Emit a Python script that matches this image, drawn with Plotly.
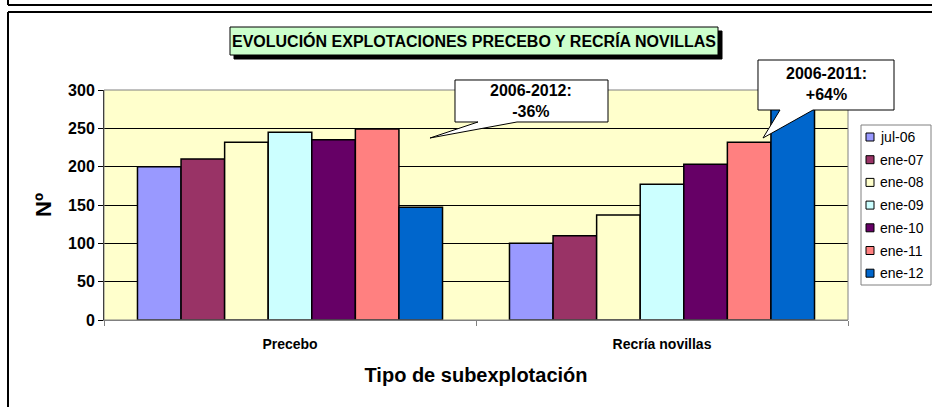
import plotly.graph_objects as go

# data
categories = ["Precebo", "Recría novillas"]
series_names = ["jul-06", "ene-07", "ene-08", "ene-09", "ene-10", "ene-11", "ene-12"]
precebo = [200, 210, 232, 245, 235, 249, 147]
recria = [100, 110, 137, 177, 203, 232, 310]
colors = ["#9999FF", "#993366", "#FFFFCC", "#CCFFFF", "#660066", "#FF8080", "#0066CC"]

FONT = "Liberation Sans, Arial, sans-serif"
W, H = 932, 407
PL, PR, PT, PB = 104, 848, 90, 320  # plot area in pixels


def px(x):
    return (x - PL) / (PR - PL)


def py(y):
    return (PB - y) / (PB - PT)


fig = go.Figure()

for i, name in enumerate(series_names):
    fig.add_trace(go.Bar(
        x=categories,
        y=[precebo[i], recria[i]],
        name=name,
        marker=dict(color=colors[i], line=dict(color="black", width=1.5)),
        showlegend=False,
    ))


def hline(x0, x1, y, color="black", width=2):
    return dict(type="line", xref="paper", yref="paper",
                x0=px(x0), x1=px(x1), y0=py(y), y1=py(y),
                line=dict(color=color, width=width))


def vline(x, y0, y1, color="black", width=2):
    return dict(type="line", xref="paper", yref="paper",
                x0=px(x), x1=px(x), y0=py(y0), y1=py(y1),
                line=dict(color=color, width=width))


shapes = []
# outer frames (chart border + bottom of the box above)
shapes.append(hline(8, 940, 5))
shapes.append(vline(8, -5, 5))
shapes.append(hline(8, 940, 12))
shapes.append(vline(8, 12, 420))
# plot area border
shapes.append(dict(type="rect", xref="paper", yref="paper",
                   x0=0, x1=1, y0=0, y1=1,
                   line=dict(color="#808080", width=1)))

# title box with shadow
shapes.append(dict(type="rect", xref="paper", yref="paper",
                   x0=px(234), x1=px(722), y0=py(31), y1=py(59),
                   fillcolor="black", line=dict(color="black", width=1)))
shapes.append(dict(type="rect", xref="paper", yref="paper",
                   x0=px(230), x1=px(718), y0=py(27), y1=py(55),
                   fillcolor="#CCFFCC", line=dict(color="black", width=1)))


def callout(x0, x1, y0, y1, b0, b1, tx, ty):
    pts = [(x0, y0), (x1, y0), (x1, y1), (b1, y1), (tx, ty), (b0, y1), (x0, y1)]
    path = "M " + " L ".join(f"{px(a):.5f},{py(b):.5f}" for a, b in pts) + " Z"
    return dict(type="path", xref="paper", yref="paper", path=path,
                fillcolor="white", line=dict(color="black", width=1))


shapes.append(callout(455, 608, 80, 122, 478, 517, 430, 138))
shapes.append(callout(758, 894, 60, 110, 780, 813, 763, 138))

# legend
shapes.append(dict(type="rect", xref="paper", yref="paper",
                   x0=px(861), x1=px(931), y0=py(125), y1=py(285),
                   fillcolor="white", line=dict(color="#808080", width=1)))
annotations = []
for i, name in enumerate(series_names):
    yc = 137 + i * 22.7
    shapes.append(dict(type="rect", xref="paper", yref="paper",
                       x0=px(866), x1=px(874), y0=py(yc - 4), y1=py(yc + 4),
                       fillcolor=colors[i], line=dict(color="black", width=1)))
    annotations.append(dict(x=px(878), y=py(yc), xref="paper", yref="paper",
                            text=name, showarrow=False, xanchor="left", yanchor="middle",
                            font=dict(family=FONT, size=14, color="black")))

annotations.append(dict(x=px(474), y=py(41), xref="paper", yref="paper",
                        text="EVOLUCIÓN EXPLOTACIONES PRECEBO Y RECRÍA NOVILLAS",
                        showarrow=False, xanchor="center", yanchor="middle",
                        font=dict(family=FONT, size=16, color="black", weight="bold")))
annotations.append(dict(x=px(531), y=py(101), xref="paper", yref="paper",
                        text="2006-2012:<br>-36%", showarrow=False,
                        xanchor="center", yanchor="middle",
                        font=dict(family=FONT, size=16, color="black", weight="bold")))
annotations.append(dict(x=px(826), y=py(84), xref="paper", yref="paper",
                        text="2006-2011:<br>+64%", showarrow=False,
                        xanchor="center", yanchor="middle",
                        font=dict(family=FONT, size=16, color="black", weight="bold")))

fig.update_layout(
    width=W, height=H,
    autosize=False,
    margin=dict(l=PL, r=W - PR, t=PT, b=H - PB, pad=0),
    paper_bgcolor="white",
    plot_bgcolor="#FFFFCC",
    barmode="group",
    bargap=0.18,
    bargroupgap=0,
    showlegend=False,
    font=dict(family=FONT, color="black"),
    shapes=shapes,
    annotations=annotations,
    xaxis=dict(
        type="category",
        tickson="boundaries",
        ticks="outside", ticklen=5, tickcolor="#808080",
        showline=True, linecolor="#808080", linewidth=1,
        showgrid=False,
        tickfont=dict(family=FONT, size=14, weight="bold"),
        ticklabelstandoff=11,
        title=dict(text="Tipo de subexplotación", standoff=17,
                   font=dict(family=FONT, size=20, weight="bold")),
    ),
    yaxis=dict(
        range=[0, 300], dtick=50,
        ticks="outside", ticklen=5, tickcolor="black",
        showline=True, linecolor="black", linewidth=1,
        showgrid=True, gridcolor="black", gridwidth=1,
        zeroline=False,
        tickfont=dict(family=FONT, size=16, weight="bold"),
        title=dict(text="Nº", standoff=10,
                   font=dict(family=FONT, size=22, weight="bold")),
    ),
)

# drop the default body margin and scrollbars so the figure fills the window
fig.write_html("out.html", config={"displayModeBar": False},
               post_script="document.body.style.margin='0';"
                           "document.body.style.overflow='hidden';")
